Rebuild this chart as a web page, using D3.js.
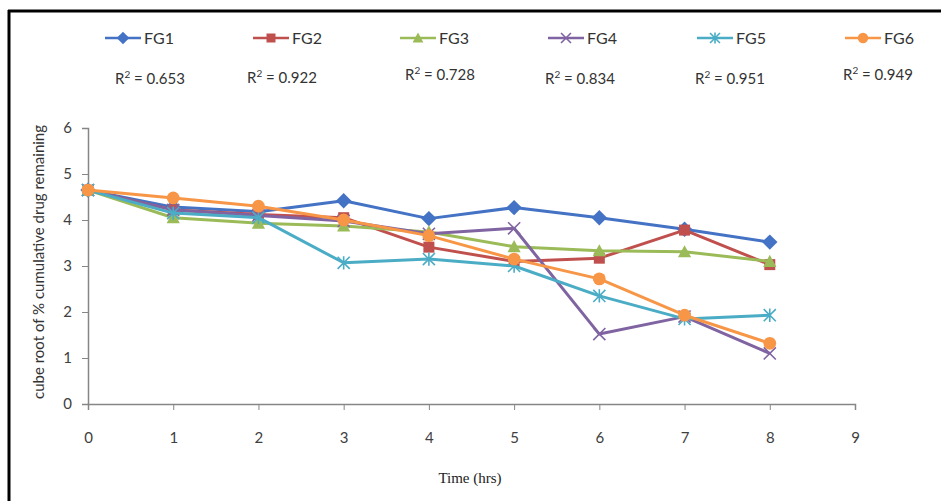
<!DOCTYPE html>
<html><head><meta charset="utf-8">
<script src="https://cdn.jsdelivr.net/npm/d3@7"></script>
<style>body{margin:0;background:#fff}svg{display:block}</style>
</head><body><svg id="c" width="941" height="501"></svg>
<script>
const times = [0,1,2,3,4,5,6,7,8];
const seriesNames = ["FG1","FG2","FG3","FG4","FG5","FG6"];
const rSquared = ["0.653","0.922","0.728","0.834","0.951","0.949"];
const fg1 = [4.65,4.28,4.18,4.42,4.03,4.27,4.05,3.80,3.52];
const fg2 = [4.65,4.22,4.12,4.05,3.41,3.10,3.17,3.78,3.03];
const fg3 = [4.65,4.05,3.93,3.87,3.74,3.42,3.33,3.31,3.10];
const fg4 = [4.65,4.22,4.10,3.98,3.70,3.82,1.52,1.90,1.10];
const fg5 = [4.65,4.15,4.05,3.07,3.15,3.00,2.35,1.85,1.93];
const fg6 = [4.65,4.48,4.30,4.00,3.66,3.15,2.72,1.93,1.32];
const xTicks = [0,1,2,3,4,5,6,7,8,9];
const yTicks = [0,1,2,3,4,5,6];

const allSeries = [fg1,fg2,fg3,fg4,fg5,fg6];
const colors = ["#4472C4","#C0504D","#9BBB59","#8064A2","#4BACC6","#F79646"];
const markers = ["diamond","square","triangle","x","asterisk","circle"];

const svg = d3.select("#c");
const x = d3.scaleLinear().domain([0,9]).range([88,855]);
const y = d3.scaleLinear().domain([0,6]).range([404,128]);

// frame
svg.append("line").attr("x1",8).attr("x2",941).attr("y1",11).attr("y2",11).attr("stroke","#000").attr("stroke-width",3);
svg.append("line").attr("x1",9).attr("x2",9).attr("y1",10).attr("y2",501).attr("stroke","#000").attr("stroke-width",3);

// axes
const ya = svg.append("g").attr("transform","translate(88,0)")
  .call(d3.axisLeft(y).tickValues(yTicks).tickSize(6).tickPadding(10).tickFormat(d3.format("d")));
const xa = svg.append("g").attr("transform","translate(0,404)")
  .call(d3.axisBottom(x).tickValues(xTicks).tickSize(6).tickPadding(22).tickFormat(d3.format("d")));
[ya,xa].forEach(g=>{
  g.select(".domain").attr("stroke","#868686").attr("stroke-width",1.5);
  g.selectAll(".tick line").attr("stroke","#868686");
  g.selectAll("text").attr("font-family","Lato, 'Open Sans', sans-serif").attr("font-size",15).attr("fill","#404040");
});

svg.append("text").attr("x",470).attr("y",483).attr("text-anchor","middle")
  .attr("font-family","'Liberation Serif', serif").attr("font-size",15).attr("fill","#222").text("Time (hrs)");
svg.append("text").attr("transform","translate(44,262) rotate(-90)").attr("text-anchor","middle")
  .attr("font-family","Lato, 'Open Sans', sans-serif").attr("font-size",15).attr("fill","#333")
  .text("cube root of % cumulative drug remaining");

function drawMarker(g, type, cx, cy, color, s){
  if(type==="diamond"){
    g.append("path").attr("d",`M${cx},${cy-s*0.7}L${cx+s*0.7},${cy}L${cx},${cy+s*0.7}L${cx-s*0.7},${cy}Z`).attr("fill",color);
  } else if(type==="square"){
    g.append("rect").attr("x",cx-s/2).attr("y",cy-s/2).attr("width",s).attr("height",s).attr("fill",color);
  } else if(type==="triangle"){
    g.append("path").attr("d",`M${cx},${cy-s*0.6}L${cx+s*0.6},${cy+s*0.5}L${cx-s*0.6},${cy+s*0.5}Z`).attr("fill",color);
  } else if(type==="circle"){
    g.append("circle").attr("cx",cx).attr("cy",cy).attr("r",s*0.58).attr("fill",color);
  } else if(type==="x"){
    const h=s*0.55;
    g.append("path").attr("d",`M${cx-h},${cy-h}L${cx+h},${cy+h}M${cx-h},${cy+h}L${cx+h},${cy-h}`).attr("stroke",color).attr("stroke-width",1.6);
  } else if(type==="asterisk"){
    const h=s*0.55;
    g.append("path").attr("d",`M${cx-h},${cy-h}L${cx+h},${cy+h}M${cx-h},${cy+h}L${cx+h},${cy-h}M${cx},${cy-h*1.1}L${cx},${cy+h*1.1}`).attr("stroke",color).attr("stroke-width",1.6);
  }
}

const line = d3.line().x((d,i)=>x(times[i])).y(d=>y(d));
allSeries.forEach((s,k)=>{
  const g = svg.append("g");
  g.append("path").datum(s).attr("d",line).attr("fill","none").attr("stroke",colors[k]).attr("stroke-width",3).attr("stroke-linejoin","round");
  s.forEach((v,i)=>drawMarker(g,markers[k],x(times[i]),y(v),colors[k],11));
});

// legend
const legX = [105,253,400,548,697,845];
const rX = [115,247,405,545,695,843];
const rY = [84,83,80,84,84,80];
seriesNames.forEach((n,k)=>{
  const g = svg.append("g");
  g.append("line").attr("x1",legX[k]).attr("x2",legX[k]+36).attr("y1",38).attr("y2",38).attr("stroke",colors[k]).attr("stroke-width",2.5);
  drawMarker(g,markers[k],legX[k]+18,38,colors[k],9);
  g.append("text").attr("x",legX[k]+39).attr("y",44).attr("font-family","Lato, 'Open Sans', sans-serif").attr("font-size",16).attr("fill","#333").text(n);
  const t = svg.append("text").attr("x",rX[k]).attr("y",rY[k]).attr("font-family","Lato, 'Open Sans', sans-serif").attr("font-size",15).attr("fill","#333");
  t.append("tspan").text("R");
  t.append("tspan").attr("font-size",10).attr("dy",-6).text("2");
  t.append("tspan").attr("dy",6).text(" = " + rSquared[k]);
});
</script></body></html>
